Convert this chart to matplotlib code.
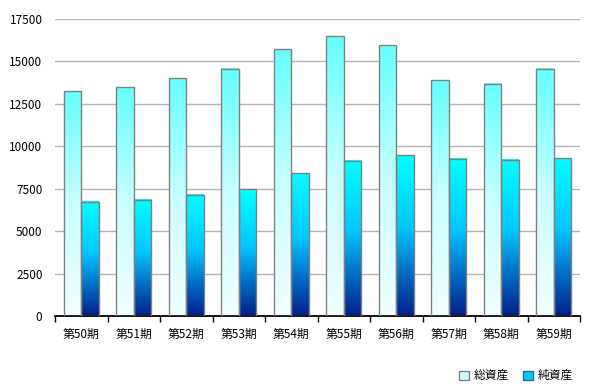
import matplotlib.pyplot as plt
from matplotlib.colors import LinearSegmentedColormap
from matplotlib.patches import Patch
import numpy as np

plt.rcParams['font.family'] = ['Noto Sans CJK JP', 'DejaVu Sans']

periods = ['第50期', '第51期', '第52期', '第53期', '第54期',
           '第55期', '第56期', '第57期', '第58期', '第59期']
total_assets = [13230, 13470, 14000, 14530, 15700, 16470, 15940, 13880, 13650, 14530]
net_assets = [6710, 6830, 7120, 7470, 8410, 9120, 9470, 9240, 9180, 9290]

# colour ramps, bottom -> top
light_cmap = LinearSegmentedColormap.from_list('light', ['#f2ffff', '#c8ffff', '#66ffff'])
dark_cmap = LinearSegmentedColormap.from_list(
    'dark', [(0, '#00208a'), (0.3, '#0077cc'), (0.55, '#00c8ff'), (1, '#00ffff')])

fig = plt.figure(figsize=(5.92, 3.89), dpi=100)
ax = fig.add_axes([55 / 592, (389 - 316.3) / 389, 525 / 592, 297.5 / 389])

x = np.arange(len(periods))
w = 1 / 3
b1 = ax.bar(x - w / 2, total_assets, w, facecolor='none', edgecolor='#808080', linewidth=1.0, zorder=3)
b2 = ax.bar(x + w / 2, net_assets, w, facecolor='none', edgecolor='#808080', linewidth=1.0, zorder=3)

grad = np.linspace(0, 1, 256).reshape(-1, 1)
for bars, cmap in ((b1, light_cmap), (b2, dark_cmap)):
    for r in bars:
        x0, y0 = r.get_x(), r.get_y()
        ax.imshow(grad, cmap=cmap, origin='lower', aspect='auto',
                  extent=[x0, x0 + r.get_width(), y0, y0 + r.get_height()], zorder=2)

ax.set_xlim(-0.5, len(periods) - 0.5)
ax.set_ylim(0, 17500)
ax.set_yticks(np.arange(0, 17501, 2500))
ax.yaxis.grid(True, color='#b4b4b4', linewidth=1)
ax.set_axisbelow(True)
ax.tick_params(axis='y', length=0, pad=9, labelsize=8.5)

ax.set_xticks(x)
ax.set_xticklabels(periods, fontsize=8.5)
ax.tick_params(axis='x', length=0, pad=8)
ax.set_xticks(np.arange(-0.5, len(periods)), minor=True)
ax.tick_params(axis='x', which='minor', length=4, width=1, color='black', direction='out')

for s in ['top', 'right', 'left']:
    ax.spines[s].set_visible(False)
ax.spines['bottom'].set_linewidth(1.3)
ax.spines['bottom'].set_color('black')

handles = [Patch(facecolor='#ccffff', edgecolor='#808080', label='総資産'),
           Patch(facecolor='#00ccff', edgecolor='#336699', label='純資産')]
fig.legend(handles=handles, loc='lower right', bbox_to_anchor=(0.985, -0.01), ncol=2,
           frameon=False, fontsize=8.5, handlelength=0.8, handleheight=0.8,
           handletextpad=0.4, columnspacing=1.2)

fig.savefig('out.png', dpi=100)
